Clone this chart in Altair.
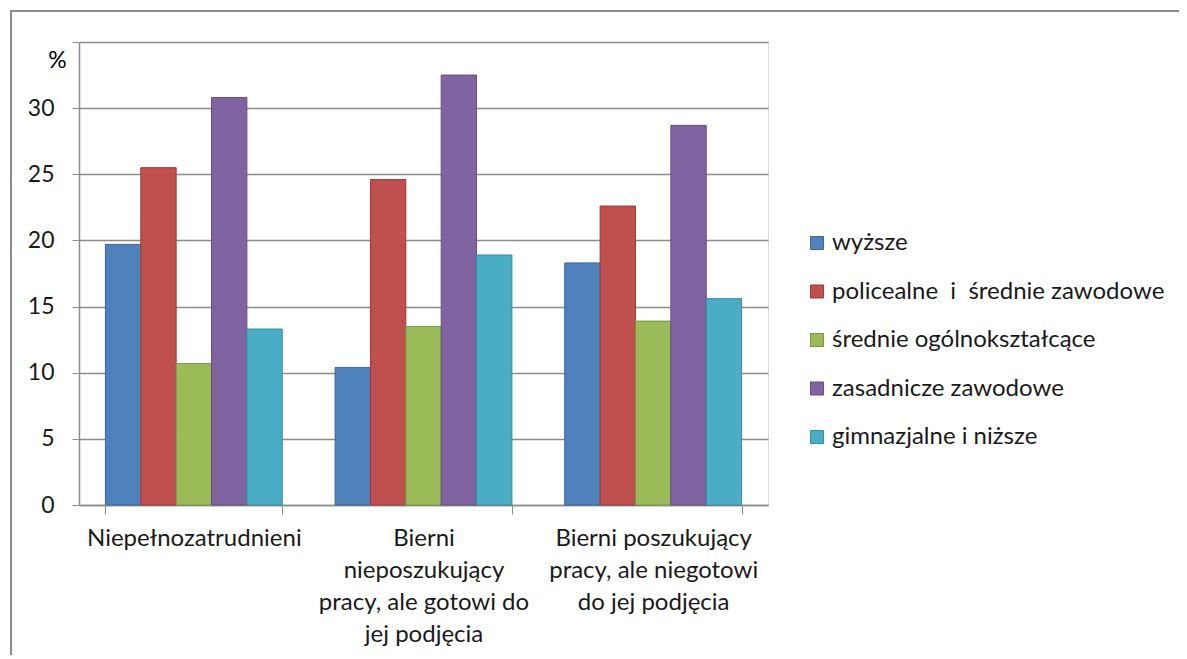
import altair as alt
import pandas as pd

categories = [
    "Niepełnozatrudnieni",
    "Bierni\nnieposzukujący\npracy, ale gotowi do\njej podjęcia",
    "Bierni poszukujący\npracy, ale niegotowi\ndo jej podjęcia",
]
series = [
    "wyższe",
    "policealne\u00a0 i\u00a0 średnie zawodowe",
    "średnie ogólnokształcące",
    "zasadnicze zawodowe",
    "gimnazjalne i niższe",
]
colors = ["#4f81bd", "#c0504d", "#9bbb59", "#8064a2", "#4bacc6"]
strokes = ["#3c6797", "#9a3c3a", "#7a9646", "#654f82", "#3a8aa0"]

wyzsze = [19.7, 10.4, 18.3]
policealne = [25.5, 24.6, 22.6]
srednie_ogolne = [10.7, 13.5, 13.9]
zasadnicze = [30.8, 32.5, 28.7]
gimnazjalne = [13.3, 18.9, 15.6]

values = [wyzsze, policealne, srednie_ogolne, zasadnicze, gimnazjalne]
rows = []
for s, vals in zip(series, values):
    for c, v in zip(categories, vals):
        rows.append({"kategoria": c, "wyksztalcenie": s, "wartosc": v})
df = pd.DataFrame(rows)

FONT = "Lato"

bars = alt.Chart(df).mark_bar(strokeWidth=1).encode(
    x=alt.X(
        "kategoria:N",
        sort=categories,
        scale=alt.Scale(paddingInner=0.23, paddingOuter=0.115),
        axis=alt.Axis(
            title=None,
            labelAngle=0,
            labelExpr="split(datum.label, '\\n')",
            labelFontSize=24,
            labelLineHeight=32,
            labelFont=FONT,
            labelColor="#1a1a1a",
            labelPadding=12,
            labelBaseline="top",
            labelLimit=300,
            tickBand="extent",
            tickSize=9,
            tickColor="#8c8c8c",
            domainColor="#8c8c8c",
            domainWidth=1.5,
        ),
    ),
    xOffset=alt.XOffset("wyksztalcenie:N", sort=series, scale=alt.Scale(paddingInner=0, paddingOuter=0)),
    y=alt.Y(
        "wartosc:Q",
        scale=alt.Scale(domain=[0, 35], nice=False),
        axis=alt.Axis(
            title="%",
            titleAngle=0,
            titleX=-22,
            titleY=18,
            titleAlign="center",
            titleBaseline="middle",
            titleFontSize=23,
            titleFontWeight="normal",
            titleFont=FONT,
            titleColor="#000000",
            values=[0, 5, 10, 15, 20, 25, 30, 35],
            labelExpr="datum.value == 35 ? '' : datum.label",
            labelFontSize=23,
            labelFont=FONT,
            labelColor="#1a1a1a",
            labelPadding=18,
            tickSize=7,
            tickColor="#8c8c8c",
            domainColor="#8c8c8c",
            domainWidth=1.5,
            gridColor="#8c8c8c",
            gridWidth=1.5,
        ),
    ),
    color=alt.Color(
        "wyksztalcenie:N",
        sort=series,
        scale=alt.Scale(domain=series, range=colors),
        legend=alt.Legend(
            title=None,
            orient="none",
            legendX=726,
            legendY=189,
            symbolType="square",
            symbolSize=170,
            symbolStrokeWidth=1,
            labelFontSize=24,
            labelFont=FONT,
            labelColor="#1a1a1a",
            rowPadding=24.5,
            labelOffset=3,
            labelLimit=450,
        ),
    ),
    stroke=alt.Stroke("wyksztalcenie:N", sort=series, scale=alt.Scale(domain=series, range=strokes), legend=None),
)

frame = alt.Chart(pd.DataFrame({"a": [0]})).mark_rect(
    fill=None, stroke="#8c8c8c", strokeWidth=2, clip=False
).encode(
    x=alt.value(-68), x2=alt.value(1101), y=alt.value(-31), y2=alt.value(640)
)

chart = alt.layer(bars, frame).properties(
    width=689,
    height=463,
    autosize=alt.AutoSizeParams(type="none"),
    padding={"left": 71, "top": 34, "right": 411, "bottom": 150},
).configure_view(fill="#e6e6e6", stroke=None).configure(background="white")

chart.save("out.html", embed_options={"renderer": "svg", "actions": False})
